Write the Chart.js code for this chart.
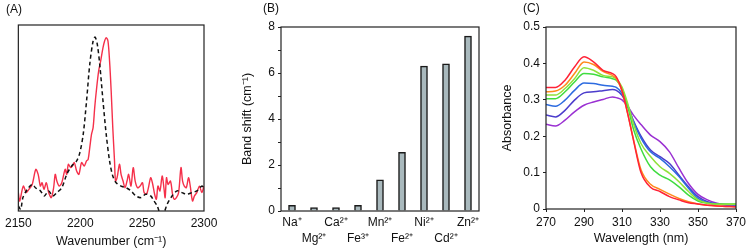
<!DOCTYPE html>
<html>
<head>
<meta charset="utf-8">
<script src="https://cdn.jsdelivr.net/npm/chart.js@4/dist/chart.umd.min.js"></script>
<style>
  body { margin: 0; background: #fff; }
  #wrap { position: relative; width: 750px; height: 252px; overflow: hidden; font-family: "Liberation Sans", Arial, sans-serif; }
  canvas { position: absolute; top: 0; }
  .tag { position: absolute; font-size: 12px; color: #111; }
</style>
</head>
<body>
<div id="wrap">
  <canvas id="chartA" width="235" height="252" style="left:0"></canvas>
  <canvas id="chartB" width="260" height="252" style="left:235px"></canvas>
  <canvas id="chartC" width="255" height="252" style="left:495px"></canvas>
  <div class="tag" style="left:6px;top:2px">(A)</div>
  <div class="tag" style="left:263px;top:1px">(B)</div>
  <div class="tag" style="left:523px;top:1px">(C)</div>
</div>
<script>
// (A) IR spectra: sample (red) and reference (dashed)
var sampleWn = [2150.0, 2151.1, 2154.0, 2156.4, 2158.5, 2161.2, 2164.1, 2166.0, 2167.8, 2169.2, 2170.7, 2172.6, 2174.5, 2176.6, 2178.5, 2179.8, 2181.1, 2183.0, 2185.1, 2187.8, 2189.1, 2190.4, 2192.3, 2193.6, 2195.2, 2197.1, 2198.9, 2201.1, 2203.2, 2205.1, 2206.4, 2207.7, 2209.1, 2210.4, 2211.7, 2213.0, 2214.9, 2216.5, 2218.4, 2219.7, 2221.0, 2222.4, 2223.7, 2225.0, 2226.3, 2227.7, 2228.5, 2229.8, 2231.7, 2233.0, 2234.6, 2236.2, 2237.8, 2239.1, 2241.0, 2242.8, 2244.4, 2246.3, 2248.4, 2250.3, 2251.6, 2253.5, 2255.1, 2256.9, 2258.3, 2260.1, 2261.5, 2262.8, 2264.4, 2266.2, 2267.6, 2268.6, 2269.7, 2271.0, 2272.9, 2274.8, 2276.1, 2277.7, 2279.5, 2281.4, 2282.7, 2284.1, 2285.7, 2287.5, 2288.9, 2290.7, 2292.3, 2294.2, 2296.3, 2298.2, 2300.0];
var sampleInt = [0.099, 0.054, 0.134, 0.099, 0.116, 0.143, 0.224, 0.197, 0.134, 0.152, 0.116, 0.152, 0.099, 0.072, 0.125, 0.197, 0.161, 0.134, 0.152, 0.224, 0.197, 0.251, 0.233, 0.242, 0.260, 0.215, 0.197, 0.260, 0.242, 0.269, 0.278, 0.341, 0.412, 0.448, 0.556, 0.645, 0.753, 0.806, 0.878, 0.914, 0.932, 0.914, 0.806, 0.645, 0.448, 0.269, 0.161, 0.179, 0.251, 0.197, 0.161, 0.125, 0.161, 0.197, 0.134, 0.233, 0.161, 0.125, 0.134, 0.152, 0.099, 0.090, 0.125, 0.179, 0.152, 0.090, 0.063, 0.134, 0.108, 0.188, 0.125, 0.072, 0.179, 0.143, 0.161, 0.081, 0.063, 0.072, 0.099, 0.233, 0.161, 0.134, 0.125, 0.179, 0.134, 0.054, 0.081, 0.099, 0.134, 0.099, 0.134];
var refWn = [2150.0, 2151.9, 2153.7, 2157.2, 2161.2, 2163.8, 2167.8, 2171.0, 2174.5, 2177.7, 2181.1, 2185.1, 2189.1, 2193.1, 2197.1, 2199.7, 2202.4, 2205.1, 2207.7, 2210.4, 2212.0, 2213.8, 2216.0, 2218.4, 2221.0, 2223.7, 2226.3, 2229.0, 2233.0, 2237.0, 2241.0, 2245.0, 2248.9, 2252.9, 2256.9, 2259.6, 2262.2, 2264.9, 2267.6, 2270.2, 2274.2, 2278.2, 2282.2, 2286.2, 2290.2, 2294.2, 2298.2, 2300.0];
var refInt = [0.027, 0.009, 0.072, 0.116, 0.143, 0.125, 0.108, 0.081, 0.108, 0.081, 0.099, 0.125, 0.197, 0.242, 0.269, 0.314, 0.412, 0.591, 0.789, 0.914, 0.935, 0.896, 0.771, 0.591, 0.412, 0.269, 0.188, 0.152, 0.134, 0.125, 0.108, 0.081, 0.072, 0.090, 0.081, 0.054, 0.027, -0.018, -0.009, 0.036, 0.081, 0.108, 0.099, 0.090, 0.099, 0.108, 0.134, 0.125];
var wnTicks = [2150, 2200, 2250, 2300];

// (B) band shift per metal ion
var ions = ["Na⁺", "Mg²⁺", "Ca²⁺", "Fe³⁺", "Mn²⁺", "Fe²⁺", "Ni²⁺", "Cd²⁺", "Zn²⁺"];
var bandShift = [0.25, 0.15, 0.15, 0.25, 1.35, 2.55, 6.3, 6.4, 7.6];

// (C) UV-vis absorbance series
var wavelengths = [270, 275, 280, 285, 290, 295, 300, 305, 307, 310, 313, 316, 320, 325, 330, 335, 340, 345, 350, 355, 360, 370];
var abs1 = [0.334, 0.334, 0.354, 0.390, 0.418, 0.404, 0.381, 0.372, 0.363, 0.325, 0.262, 0.190, 0.100, 0.060, 0.048, 0.034, 0.025, 0.017, 0.014, 0.010, 0.008, 0.006];
var abs2 = [0.322, 0.324, 0.340, 0.372, 0.404, 0.397, 0.378, 0.367, 0.358, 0.325, 0.262, 0.192, 0.108, 0.068, 0.054, 0.041, 0.029, 0.020, 0.014, 0.010, 0.008, 0.006];
var abs3 = [0.313, 0.313, 0.331, 0.358, 0.388, 0.381, 0.367, 0.363, 0.358, 0.335, 0.290, 0.235, 0.180, 0.144, 0.116, 0.098, 0.075, 0.048, 0.025, 0.016, 0.013, 0.013];
var abs4 = [0.303, 0.303, 0.322, 0.349, 0.372, 0.370, 0.363, 0.358, 0.354, 0.330, 0.282, 0.220, 0.165, 0.116, 0.093, 0.080, 0.061, 0.038, 0.022, 0.016, 0.014, 0.014];
var abs5 = [0.287, 0.282, 0.299, 0.326, 0.346, 0.345, 0.340, 0.337, 0.334, 0.318, 0.285, 0.240, 0.195, 0.157, 0.139, 0.116, 0.089, 0.057, 0.029, 0.017, 0.014, 0.011];
var abs6 = [0.258, 0.253, 0.271, 0.299, 0.319, 0.322, 0.325, 0.328, 0.326, 0.312, 0.282, 0.243, 0.200, 0.162, 0.144, 0.125, 0.093, 0.061, 0.034, 0.020, 0.014, 0.011];
var abs7 = [0.233, 0.228, 0.244, 0.267, 0.285, 0.294, 0.301, 0.308, 0.306, 0.300, 0.282, 0.258, 0.232, 0.203, 0.185, 0.157, 0.112, 0.070, 0.040, 0.025, 0.016, 0.006];
var absSeries = [abs1, abs2, abs3, abs4, abs5, abs6, abs7];
var absColors = ["#ff2236", "#ff8a1c", "#8fe23a", "#3fdc3f", "#2c6be0", "#4b3ccc", "#9a30d2"];

Chart.defaults.font.family = '"Liberation Sans", Arial, sans-serif';
Chart.defaults.font.size = 12;
Chart.defaults.color = "#111";
Chart.defaults.animation = false;
Chart.defaults.plugins.legend.display = false;
Chart.defaults.plugins.tooltip.enabled = false;

// box round the plot area
var frame = {
    id: "frame",
    afterDatasetsDraw: function (chart) {
        var a = chart.chartArea, ctx = chart.ctx;
        ctx.save();
        ctx.strokeStyle = "#222";
        ctx.lineWidth = 1.2;
        ctx.strokeRect(a.left, a.top, a.right - a.left, a.bottom - a.top);
        ctx.restore();
    }
};

function pts(xs, ys) {
    return xs.map(function (x, i) { return { x: x, y: ys[i] }; });
}

var titleFont = { size: 12.5 };

new Chart(document.getElementById("chartA"), {
    type: "line",
    data: {
        datasets: [{
            data: pts(refWn, refInt),
            borderColor: "#111",
            borderWidth: 1.5,
            borderDash: [4, 3],
            pointRadius: 0,
            tension: 0.3
        }, {
            data: pts(sampleWn, sampleInt),
            borderColor: "#f5304a",
            borderWidth: 1.4,
            pointRadius: 0,
            tension: 0.3
        }]
    },
    options: {
        responsive: false,
        layout: { padding: { top: 25, right: 31, left: 0, bottom: 0 } },
        scales: {
            x: {
                type: "linear", min: 2150, max: 2300,
                afterBuildTicks: function (s) { s.ticks = wnTicks.map(function (v) { return { value: v }; }); },
                ticks: { padding: 5, maxRotation: 0, callback: function (v) { return String(v); } },
                grid: { display: false, drawTicks: false },
                border: { display: false },
                title: { display: true, text: "Wavenumber (cm⁻¹)", font: titleFont, padding: { top: 0, bottom: 3 } },
                afterFit: function (s) { s.height = 41; }
            },
            y: {
                min: 0, max: 1,
                ticks: { display: false },
                grid: { display: false, drawTicks: false },
                border: { display: false },
                afterFit: function (s) { s.width = 16; }
            }
        }
    },
    plugins: [frame]
});

new Chart(document.getElementById("chartB"), {
    type: "bar",
    data: {
        labels: ions.map(function (l, i) { return i % 2 === 0 ? [l, ""] : ["", l]; }),
        datasets: [{
            data: bandShift,
            backgroundColor: "#a9b9bd",
            borderColor: "#1a1a1a",
            borderWidth: 1.5,
            borderSkipped: "bottom",
            barThickness: 7
        }]
    },
    options: {
        responsive: false,
        layout: { padding: { top: 27, right: 16, left: 0, bottom: 0 } },
        scales: {
            x: {
                ticks: { padding: 4, maxRotation: 0, autoSkip: false, font: { lineHeight: 1.333 } },
                grid: { display: false, drawTicks: false },
                border: { display: false },
                afterFit: function (s) { s.height = 41; }
            },
            y: {
                min: 0, max: 8,
                ticks: {
                    stepSize: 1, padding: 3,
                    callback: function (v) { return v % 2 === 0 ? v : ""; }
                },
                grid: { drawOnChartArea: false, tickLength: 3, color: "#222" },
                border: { display: false },
                title: { display: true, text: "Band shift (cm⁻¹)", font: titleFont, padding: { top: 5, bottom: 0 } },
                afterFit: function (s) { s.width = 46; }
            }
        }
    },
    plugins: [frame]
});

new Chart(document.getElementById("chartC"), {
    type: "line",
    data: {
        datasets: absSeries.map(function (ys, i) {
            return {
                data: pts(wavelengths, ys),
                borderColor: absColors[i],
                borderWidth: 1.5,
                pointRadius: 0,
                cubicInterpolationMode: "monotone"
            };
        })
    },
    options: {
        responsive: false,
        layout: { padding: { top: 27, right: 14, left: 0, bottom: 0 } },
        scales: {
            x: {
                type: "linear", min: 270, max: 370,
                ticks: { stepSize: 20, padding: 3, maxRotation: 0 },
                grid: { drawOnChartArea: false, tickLength: 3, color: "#222" },
                border: { display: false },
                title: { display: true, text: "Wavelength (nm)", font: titleFont, padding: { top: 0, bottom: 6 } },
                afterFit: function (s) { s.height = 43; }
            },
            y: {
                min: 0, max: 0.5,
                ticks: {
                    stepSize: 0.1, padding: 3,
                    callback: function (v) { return v === 0 ? "0" : v.toFixed(1); }
                },
                grid: { drawOnChartArea: false, tickLength: 3, color: "#222" },
                border: { display: false },
                title: { display: true, text: "Absorbance", font: titleFont, padding: { top: 5, bottom: 0 } },
                afterFit: function (s) { s.width = 51; }
            }
        }
    },
    plugins: [frame]
});
</script>
</body>
</html>
